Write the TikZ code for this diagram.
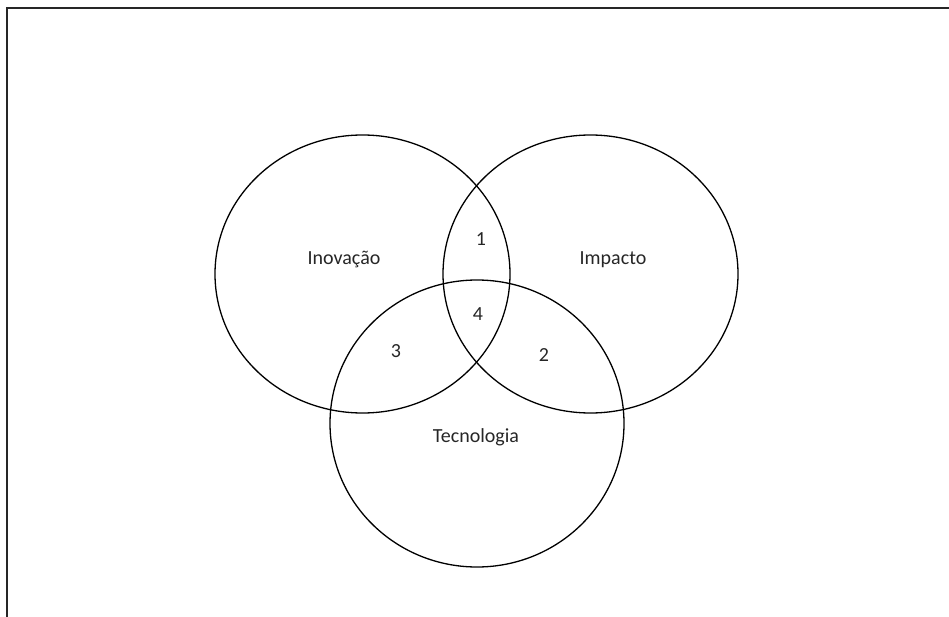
\documentclass[tikz,border=0pt]{standalone}
\usepackage{fontspec}
\setmainfont{Carlito}
\begin{document}
\begin{tikzpicture}[x=1pt,y=-1pt,
  setc/.style={draw=black,line width=1.3pt},
  lbl/.style={font=\fontsize{20}{24}\selectfont,text=black!85,inner sep=0pt}]
\useasboundingbox (0,0) rectangle (949,617);
\coordinate (tl) at (7,8);
\coordinate (tr) at (949,8);
\coordinate (bl) at (7,617);
\draw[line width=2pt,black!85] (tr) -- (tl) -- (bl);
\draw[setc] (362.5,274) ellipse [x radius=147.5, y radius=139];
\draw[setc] (590.5,274) ellipse [x radius=147.5, y radius=139];
\draw[setc] (477,423.5) ellipse [x radius=147, y radius=143.5];
\node[lbl] (ino) at (344,260) {Inovação};
\node[lbl] (imp) at (613,260) {Impacto};
\node[lbl] (tec) at (476,437) {Tecnologia};
\node[lbl] (n1) at (481,239) {1};
\node[lbl] (n4) at (478,314) {4};
\node[lbl] (n3) at (396,351) {3};
\node[lbl] (n2) at (544,355) {2};
\end{tikzpicture}
\end{document}
